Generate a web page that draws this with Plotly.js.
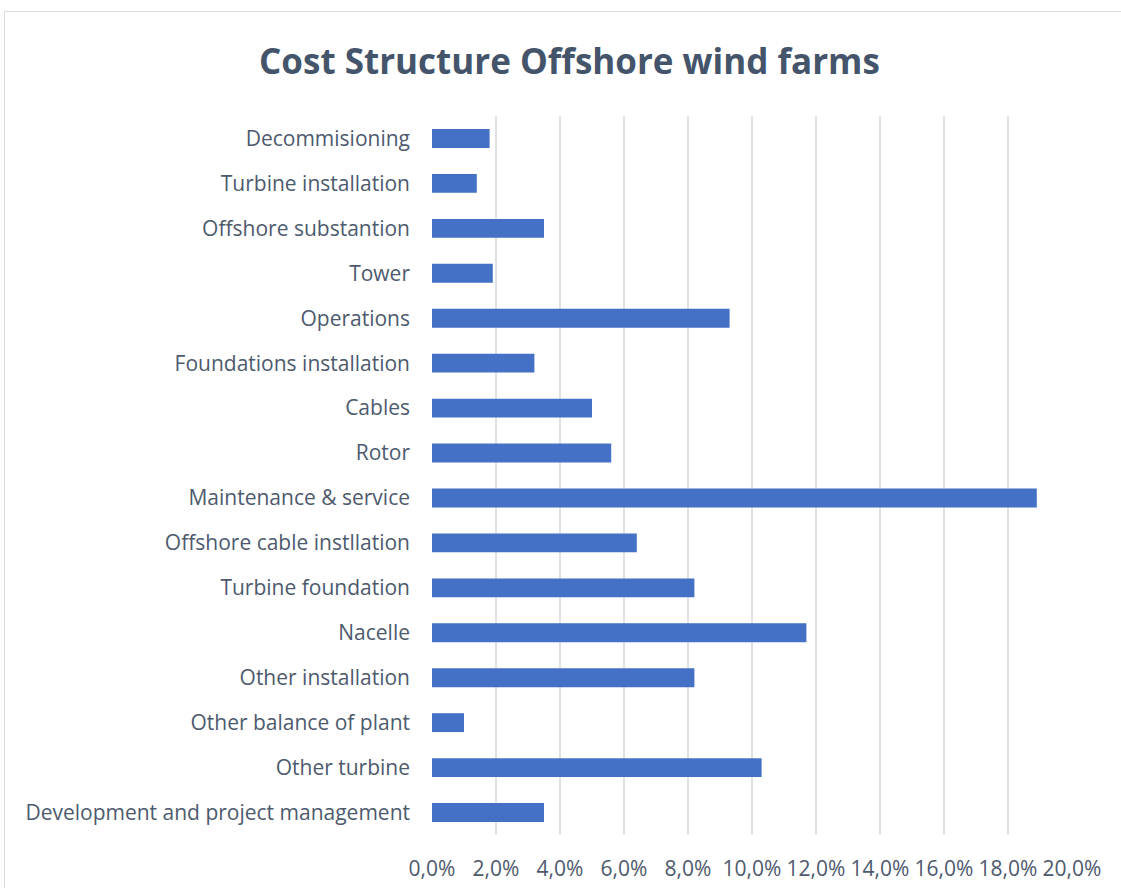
<!DOCTYPE html>
<html>
<head>
<meta charset="utf-8">
<script src="https://cdn.plot.ly/plotly-3.0.1.min.js"></script>
<style>
  html, body { margin: 0; padding: 0; background: #fff; overflow: hidden; }
  #frame { position: absolute; left: 4px; top: 11px; width: 1140px; height: 900px; border: 1px solid #d9dde3; box-sizing: border-box; }
  #chart { position: absolute; left: 0; top: 0; width: 1121px; height: 888px; }
</style>
</head>
<body>
<div id="frame"></div>
<div id="chart"></div>
<script>
const categories = [
  "Development and project management",
  "Other turbine",
  "Other balance of plant",
  "Other installation",
  "Nacelle",
  "Turbine foundation",
  "Offshore cable instllation",
  "Maintenance & service",
  "Rotor",
  "Cables",
  "Foundations installation",
  "Operations",
  "Tower",
  "Offshore substantion",
  "Turbine installation",
  "Decommisioning"
];
const shares = [0.035, 0.103, 0.010, 0.082, 0.117, 0.082, 0.064, 0.189, 0.056, 0.050, 0.032, 0.093, 0.019, 0.035, 0.014, 0.018];
const xTickVals = [0, 0.02, 0.04, 0.06, 0.08, 0.10, 0.12, 0.14, 0.16, 0.18, 0.20];
const titleText = "Cost Structure Offshore wind farms";

const font = "Open Sans, Liberation Sans, sans-serif";

Plotly.newPlot("chart", [{
  type: "bar",
  orientation: "h",
  x: shares,
  y: categories,
  marker: { color: "#4470C6", line: { width: 0 } },
  hoverinfo: "x+y"
}], {
  width: 1121, height: 888,
  paper_bgcolor: "rgba(0,0,0,0)",
  plot_bgcolor: "rgba(0,0,0,0)",
  separators: ",.",
  margin: { l: 432, r: 49, t: 116, b: 53 },
  bargap: 0.58,
  showlegend: false,
  title: {
    text: "<b>" + titleText + "</b>",
    font: { family: font, size: 35, color: "#44546A" },
    x: 0.508, xanchor: "center",
    y: 0.931, yanchor: "middle"
  },
  xaxis: {
    range: [0, 0.20],
    tickvals: xTickVals,
    tickformat: ".1%",
    showgrid: true,
    gridcolor: "#dde1e8",
    gridwidth: 1.5,
    zeroline: false,
    showline: false,
    ticks: "",
    ticklabelstandoff: 19,
    tickfont: { family: font, size: 21, color: "#4d5a6e" },
    fixedrange: true
  },
  yaxis: {
    type: "category",
    categoryorder: "array",
    categoryarray: categories,
    showgrid: false,
    zeroline: false,
    showline: false,
    ticks: "",
    ticklabelstandoff: 21,
    tickfont: { family: font, size: 21, color: "#4d5a6e" },
    fixedrange: true
  }
}, { displayModeBar: false, staticPlot: true });
</script>
</body>
</html>
